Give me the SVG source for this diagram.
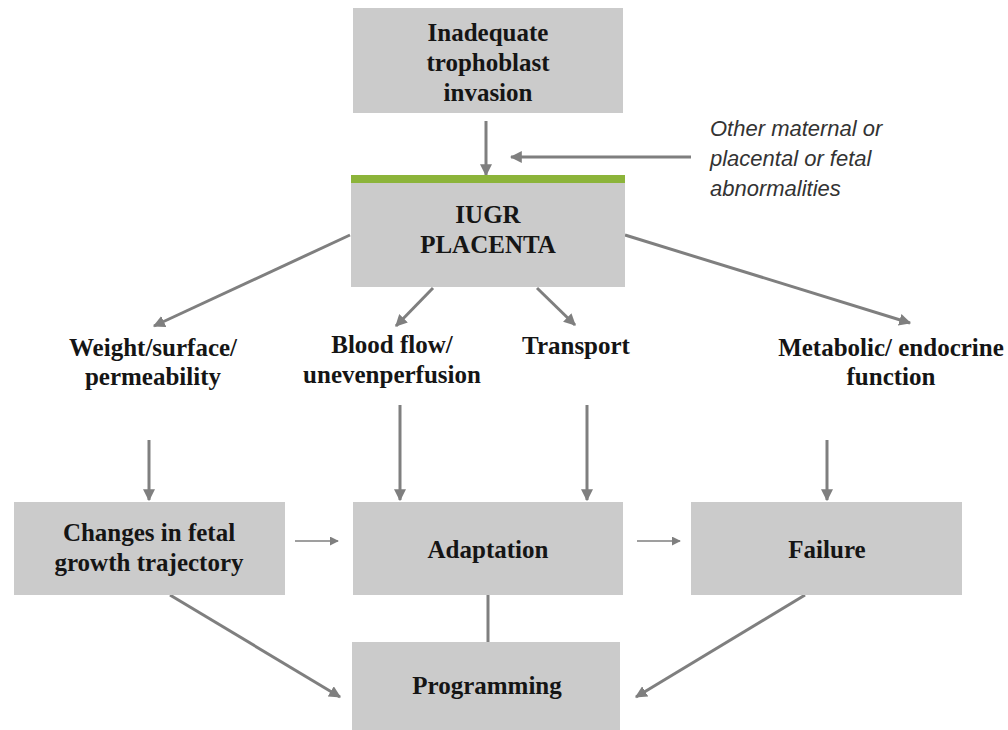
<svg xmlns="http://www.w3.org/2000/svg" width="1008" height="730" viewBox="0 0 1008 730">
<style>
.box{fill:#cbcbcb}
.t{font-family:"Liberation Serif","Times New Roman",serif;font-weight:bold;font-size:25px;fill:#151515;text-anchor:middle}
.it{font-family:"Liberation Sans",Arial,sans-serif;font-style:italic;font-size:22px;fill:#333}
.c{stroke:#7f7f7f;stroke-width:3;fill:none}
.cs{stroke:#7f7f7f;stroke-width:1.6;fill:none}
</style>
<defs>
<marker id="ah" viewBox="0 0 10 10" refX="9" refY="5" markerWidth="12" markerHeight="12" markerUnits="userSpaceOnUse" orient="auto">
<path d="M0,0 L10,5 L0,10 z" fill="#7f7f7f"/>
</marker>
<marker id="ahs" viewBox="0 0 10 10" refX="9" refY="5" markerWidth="9" markerHeight="9" markerUnits="userSpaceOnUse" orient="auto">
<path d="M0,0 L10,5 L0,10 z" fill="#7f7f7f"/>
</marker>
</defs>
<rect width="1008" height="730" fill="#ffffff"/>

<g id="connectors">
<line class="c" x1="486" y1="121" x2="486" y2="175" marker-end="url(#ah)"/>
<line class="c" x1="691" y1="157" x2="511" y2="157" marker-end="url(#ah)"/>
<line class="c" x1="350" y1="235" x2="154" y2="326" marker-end="url(#ah)"/>
<line class="c" x1="433" y1="288" x2="396" y2="326" marker-end="url(#ah)"/>
<line class="c" x1="537" y1="288" x2="575" y2="325" marker-end="url(#ah)"/>
<line class="c" x1="625" y1="235" x2="910" y2="323" marker-end="url(#ah)"/>
<line class="c" x1="149" y1="440" x2="149" y2="500" marker-end="url(#ah)"/>
<line class="c" x1="400" y1="405" x2="400" y2="500" marker-end="url(#ah)"/>
<line class="c" x1="587" y1="405" x2="587" y2="500" marker-end="url(#ah)"/>
<line class="c" x1="827" y1="440" x2="827" y2="500" marker-end="url(#ah)"/>
<line class="cs" x1="295" y1="541" x2="338" y2="541" marker-end="url(#ahs)"/>
<line class="cs" x1="637" y1="541" x2="680" y2="541" marker-end="url(#ahs)"/>
<line class="c" x1="488" y1="595" x2="488" y2="642"/>
<line class="c" x1="170" y1="595" x2="340" y2="697" marker-end="url(#ah)"/>
<line class="c" x1="805" y1="595" x2="636" y2="697" marker-end="url(#ah)"/>
</g>

<g id="node-trophoblast">
<rect class="box" x="353" y="8" width="270" height="105"/>
<text class="t" x="488" y="41">Inadequate</text>
<text class="t" x="488" y="71">trophoblast</text>
<text class="t" x="488" y="101">invasion</text>
</g>

<g id="node-other">
<text class="it" x="710" y="136">Other maternal or</text>
<text class="it" x="710" y="166">placental or fetal</text>
<text class="it" x="710" y="196">abnormalities</text>
</g>

<g id="node-iugr">
<rect class="box" x="351" y="175" width="274" height="112"/>
<rect x="351" y="175" width="274" height="8" fill="#8cb43a"/>
<text class="t" x="488" y="223">IUGR</text>
<text class="t" x="488" y="253">PLACENTA</text>
</g>

<g id="node-weight">
<text class="t" x="153" y="356">Weight/surface/</text>
<text class="t" x="153" y="385">permeability</text>
</g>

<g id="node-blood">
<text class="t" x="392" y="353">Blood flow/</text>
<text class="t" x="392" y="383">unevenperfusion</text>
</g>

<g id="node-transport">
<text class="t" x="576" y="354">Transport</text>
</g>

<g id="node-metabolic">
<text class="t" x="891" y="356">Metabolic/ endocrine</text>
<text class="t" x="891" y="385">function</text>
</g>

<g id="node-changes">
<rect class="box" x="14" y="502" width="271" height="93"/>
<text class="t" x="149" y="541">Changes in fetal</text>
<text class="t" x="149" y="571">growth trajectory</text>
</g>

<g id="node-adaptation">
<rect class="box" x="353" y="502" width="270" height="93"/>
<text class="t" x="488" y="558">Adaptation</text>
</g>

<g id="node-failure">
<rect class="box" x="691" y="502" width="271" height="93"/>
<text class="t" x="827" y="558">Failure</text>
</g>

<g id="node-programming">
<rect class="box" x="352" y="642" width="268" height="88"/>
<text class="t" x="487" y="694">Programming</text>
</g>
</svg>
